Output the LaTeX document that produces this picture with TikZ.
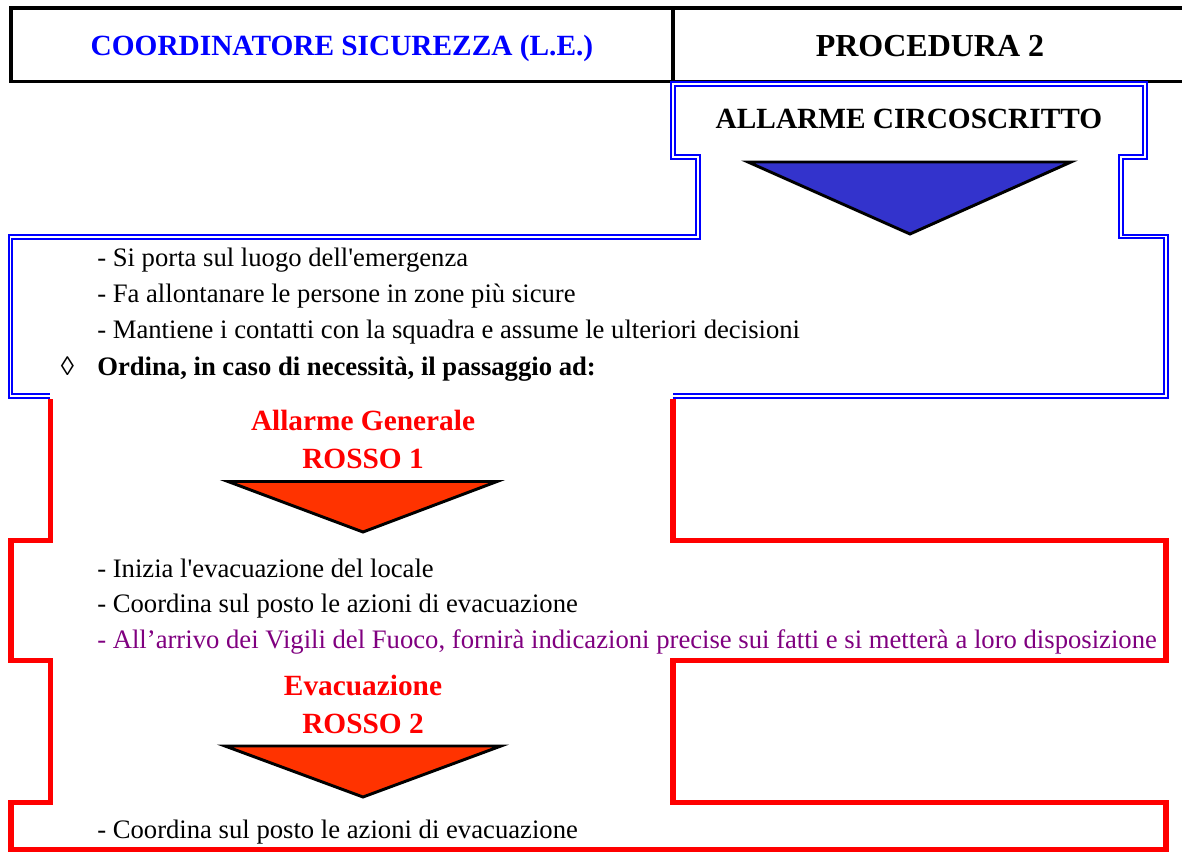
\documentclass[tikz,border=0pt]{standalone}
\usepackage{fontspec}
\setmainfont{Liberation Serif}
\definecolor{hdrblue}{RGB}{0,0,255}
\definecolor{lineblue}{RGB}{0,0,255}
\definecolor{triblue}{RGB}{51,51,204}
\definecolor{trired}{RGB}{255,51,0}
\definecolor{txtred}{RGB}{255,0,0}
\definecolor{txtpurple}{RGB}{128,0,128}
\begin{document}
\begin{tikzpicture}[x=0.75pt,y=-0.75pt,
  hdrtext/.style={font=\fontsize{22}{26}\selectfont\bfseries, inner sep=0pt, anchor=base},
  bigtext/.style={font=\fontsize{24}{28}\selectfont\bfseries, inner sep=0pt, anchor=base},
  bodytext/.style={font=\fontsize{20}{24}\selectfont, inner sep=0pt, anchor=base west},
  boldbody/.style={font=\fontsize{20}{24}\selectfont\bfseries, inner sep=0pt, anchor=base west},
  redhead/.style={hdrtext, text=txtred},
  blueframe/.style={draw=lineblue, line width=1.35pt, double=white, double distance=1.3pt, line join=miter},
  redframe/.style={draw=red, line width=4.1pt, line join=miter},
  blackframe/.style={draw=black, line width=2.6pt, line join=miter},
  arrowtri/.style={draw=black, line width=2.2pt, line join=miter}]
\useasboundingbox (0,0) rectangle (1182,852);
\fill[white] (0,0) rectangle (1182,852);

% header
\draw[blackframe] (11,7.8) rectangle (1195,81.5);
\draw[blackframe] (673,7.8) -- (673,81.5);
\node[hdrtext, text=hdrblue] (coord) at (342,55.5) {COORDINATORE SICUREZZA (L.E.)};
\node[bigtext] (proc) at (930,57) {PROCEDURA 2};

% blue frame
\draw[blueframe] (50,396) -- (10.5,396) -- (10.5,237) -- (698,237) -- (698,157) -- (673,157) -- (673,84)
  -- (1145,84) -- (1145,157) -- (1121,157) -- (1121,236.5) -- (1166,236.5) -- (1166,396) -- (673,396);
\node[hdrtext] (circ) at (909,129) {ALLARME CIRCOSCRITTO};
\draw[arrowtri, fill=triblue] (748,162) -- (1071,162) -- (910,234) -- cycle;

\node[bodytext] (l1) at (97,267) {- Si porta sul luogo dell\textquotesingle emergenza};
\node[bodytext] (l2) at (97,302.5) {- Fa allontanare le persone in zone più sicure};
\node[bodytext] (l3) at (97,338.5) {- Mantiene i contatti con la squadra e assume le ulteriori decisioni};
\node[bodytext, anchor=base] (dia) at (67.5,375) {◊};
\node[boldbody] (l4) at (97,375) {Ordina, in caso di necessità, il passaggio ad:};

% red frame
\draw[redframe] (50.5,399) -- (50.5,540.5) -- (11,540.5) -- (11,660.5) -- (50.5,660.5) -- (50.5,802.5)
  -- (11,802.5) -- (11,850) -- (1166,850) -- (1166,802.5) -- (673,802.5) -- (673,660.5) -- (1166,660.5)
  -- (1166,540.5) -- (673,540.5) -- (673,399);

\node[redhead] (ag) at (363,430) {Allarme Generale};
\node[redhead] (r1) at (363,468) {ROSSO 1};
\draw[arrowtri, fill=trired] (228,481.5) -- (497,481.5) -- (363,532) -- cycle;

\node[bodytext] (m1) at (97,577) {- Inizia l\textquotesingle evacuazione del locale};
\node[bodytext] (m2) at (97,612.7) {- Coordina sul posto le azioni di evacuazione};
\node[bodytext, text=txtpurple] (m3) at (97,648) {- All’arrivo dei Vigili del Fuoco, fornirà indicazioni precise sui fatti e si metterà a loro disposizione};

\node[redhead] (ev) at (363,695) {Evacuazione};
\node[redhead] (r2) at (363,733) {ROSSO 2};
\draw[arrowtri, fill=trired] (225,746) -- (501,746) -- (363,797) -- cycle;

\node[bodytext] (n1) at (97,838) {- Coordina sul posto le azioni di evacuazione};
\end{tikzpicture}
\end{document}
